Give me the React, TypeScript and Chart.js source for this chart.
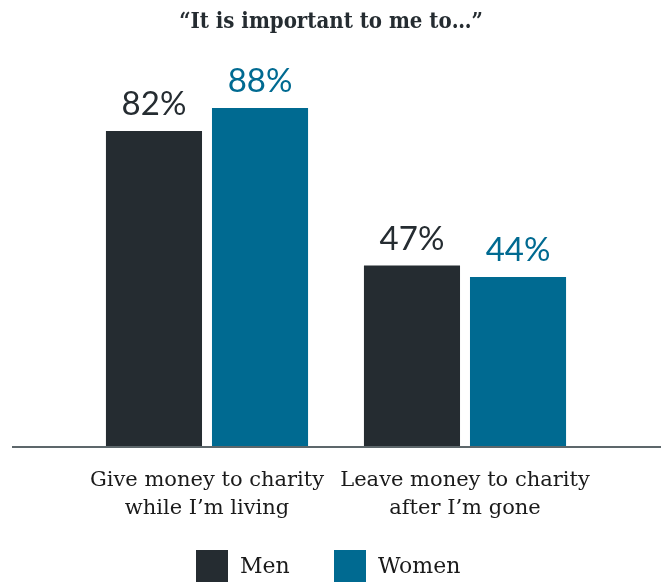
import React, { useEffect, useRef } from "react";
import { Chart, registerables } from "chart.js";

Chart.register(...registerables);

const title = "“It is important to me to…”";
const categories: string[][] = [
  ["Give money to charity", "while I’m living"],
  ["Leave money to charity", "after I’m gone"],
];
const seriesNames = ["Men", "Women"];
const menValues = [82, 47];
const womenValues = [88, 44];
const colors = ["#252c31", "#006a91"];

const SERIF = "'DejaVu Serif', serif";
const SERIF_C = "'DejaVu Serif Condensed', 'DejaVu Serif', serif";
const SANS = "Lato, 'Open Sans', sans-serif";

const overlay = {
  id: "overlay",
  afterDatasetsDraw(chart: any) {
    const ctx = chart.ctx;
    ctx.save();
    // data labels
    chart.data.datasets.forEach((ds: any, di: number) => {
      const meta = chart.getDatasetMeta(di);
      meta.data.forEach((bar: any, i: number) => {
        ctx.fillStyle = ds.backgroundColor;
        ctx.font = `400 33px ${SANS}`;
        ctx.textAlign = "center";
        ctx.textBaseline = "alphabetic";
        ctx.fillText(`${ds.data[i]}%`, bar.x, bar.y - 16);
      });
    });
    // baseline
    const y = chart.scales.y.getPixelForValue(0) + 1;
    ctx.strokeStyle = "#5d676b";
    ctx.lineWidth = 2;
    ctx.beginPath();
    ctx.moveTo(12, y);
    ctx.lineTo(chart.width, y);
    ctx.stroke();
    // title
    ctx.fillStyle = "#252c31";
    ctx.font = `bold 22px ${SERIF_C}`;
    ctx.textAlign = "center";
    ctx.textBaseline = "middle";
    ctx.fillText(title, 331, 22);
    // legend
    const items = chart.data.datasets.map((d: any) => ({ label: d.label, color: d.backgroundColor }));
    const positions = [196, 334];
    ctx.font = `400 22px ${SERIF}`;
    ctx.textAlign = "left";
    items.forEach((it: any, i: number) => {
      ctx.fillStyle = it.color;
      ctx.fillRect(positions[i], 550, 32, 32);
      ctx.fillStyle = "#1a1a1a";
      ctx.fillText(it.label, positions[i] + 44, 567);
    });
    ctx.restore();
  },
};

export default function App() {
  const ref = useRef<HTMLCanvasElement>(null);
  useEffect(() => {
    document.body.style.margin = "0";
    const chart = new Chart(ref.current!, {
      type: "bar",
      data: {
        labels: categories,
        datasets: [
          { label: seriesNames[0], data: menValues, backgroundColor: colors[0] },
          { label: seriesNames[1], data: womenValues, backgroundColor: colors[1] },
        ],
      },
      options: {
        animation: false,
        responsive: false,
        maintainAspectRatio: false,
        layout: { padding: { top: 62, left: 78, right: 67, bottom: 0 } },
        plugins: { legend: { display: false }, title: { display: false }, tooltip: { enabled: false } },
        datasets: { bar: { barPercentage: 0.906, categoryPercentage: 0.822 } },
        scales: {
          y: { display: false, min: 0, max: 100 },
          x: {
            grid: { display: false, drawTicks: false },
            border: { display: false },
            ticks: {
              color: "#1a1a1a",
              font: { family: SERIF, size: 21, lineHeight: "28px" } as any,
              padding: 21,
              maxRotation: 0,
              autoSkip: false,
            },
            afterFit(scale: any) {
              scale.height = 136;
            },
          },
        },
      },
      plugins: [overlay],
    });
    return () => chart.destroy();
  }, []);
  return (
    <div style={{ position: "absolute", left: 0, top: 0, width: 661, height: 582 }}>
      <canvas ref={ref} width={661} height={582} style={{ width: 661, height: 582 }} />
    </div>
  );
}
